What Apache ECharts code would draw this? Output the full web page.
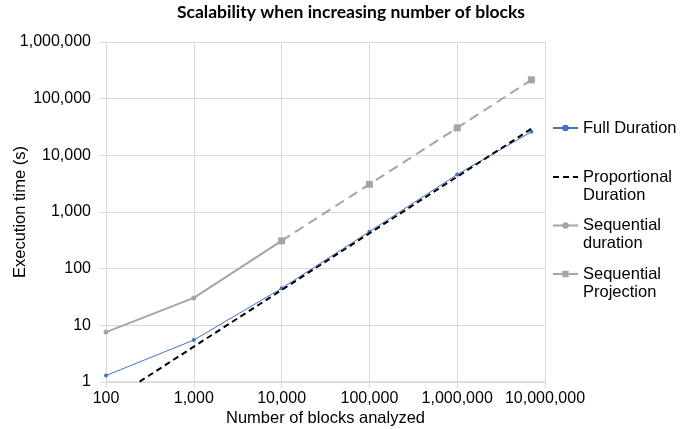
<!DOCTYPE html>
<html><head><meta charset="utf-8">
<script src="https://cdn.jsdelivr.net/npm/echarts@6/dist/echarts.min.js"></script>
<style>html,body{margin:0;padding:0;background:#fff}#c{width:691px;height:429px}</style>
</head><body><div id="c"></div>
<script>
const fullX = [100, 1000, 10000, 100000, 1000000, 7000000];
const fullY = [1.3, 5.5, 45, 450, 4600, 26000];
const propX = [100, 1000, 10000, 100000, 1000000, 7000000];
const propY = [0.42, 4.2, 42, 420, 4200, 29400];
const seqX = [100, 1000, 10000];
const seqY = [7.6, 30.5, 310];
const projX = [10000, 100000, 1000000, 7000000];
const projY = [310, 3080, 30500, 215000];
const names = ['Full Duration', 'Proportional\nDuration', 'Sequential\nduration', 'Sequential\nProjection'];

const zip = (xs, ys) => xs.map((x, i) => [x, ys[i]]);
const fmt = v => Number(v).toLocaleString('en-US');
const FONT = 'Liberation Sans, Arial, sans-serif';
const txt = {fontFamily: FONT, fontSize: 16, color: '#000'};

const chart = echarts.init(document.getElementById('c'));
const legendTops = [114, 145, 193.5, 242];
chart.setOption({
  animation: false,
  title: {text: 'Scalability when increasing number of blocks', left: 346, textAlign: 'center', top: -2,
    textStyle: {fontFamily: 'Lato, sans-serif', fontWeight: 'bold', fontSize: 17.5, color: '#000'}},
  grid: {left: 106, right: 146, top: 42, bottom: 47, containLabel: false, outerBoundsMode: 'none'},
  legend: names.map((n, i) => ({
    data: i === 1 ? [{name: n, itemStyle: {opacity: 0}}] : [n],
    left: 547, top: legendTops[i], orient: 'vertical',
    itemWidth: 25, itemHeight: 8, itemGap: 0,
    formatter: i === 0 ? '{name}' : (name => '\n' + name),
    textStyle: {fontFamily: FONT, fontSize: 16.5, color: '#000', lineHeight: 18}
  })),
  xAxis: {
    type: 'log', logBase: 10, min: 100, max: 10000000,
    name: 'Number of blocks analyzed', nameLocation: 'middle', nameGap: 28, nameMoveOverlap: false,
    nameTextStyle: {...txt, fontSize: 16.5},
    axisLine: {show: true, lineStyle: {color: '#d9d9d9', width: 1.5}},
    axisTick: {show: true, length: 6, lineStyle: {color: '#d9d9d9'}},
    axisLabel: {...txt, margin: 9, formatter: fmt},
    splitLine: {show: true, lineStyle: {color: '#d9d9d9'}},
    minorTick: {show: false}
  },
  yAxis: {
    type: 'log', logBase: 10, min: 1, max: 1000000,
    name: 'Execution time (s)', nameLocation: 'middle', nameGap: 77, nameRotate: 90, nameMoveOverlap: false,
    nameTextStyle: {...txt, fontSize: 16.5},
    axisLine: {show: false},
    axisTick: {show: true, length: 6, lineStyle: {color: '#d9d9d9'}},
    axisLabel: {...txt, margin: 15, formatter: fmt},
    splitLine: {show: true, lineStyle: {color: '#d9d9d9'}}
  },
  series: [
    {name: names[0], type: 'line', data: zip(fullX, fullY), z: 4,
      symbol: 'circle', symbolSize: 4, showSymbol: true,
      lineStyle: {color: '#4472C4', width: 1}, itemStyle: {color: '#4472C4'}},
    {name: names[1], type: 'line', data: zip(propX, propY), z: 5, clip: true,
      symbol: 'none', lineStyle: {color: '#000', width: 2, type: [6, 4]}, itemStyle: {color: '#000'}},
    {name: names[2], type: 'line', data: zip(seqX, seqY), z: 3,
      symbol: 'circle', symbolSize: 5,
      lineStyle: {color: '#A5A5A5', width: 2}, itemStyle: {color: '#A5A5A5'}},
    {name: names[3], type: 'line', data: zip(projX, projY), z: 3,
      symbol: 'rect', symbolSize: 7,
      lineStyle: {color: '#A5A5A5', width: 2, type: [10, 6]}, itemStyle: {color: '#A5A5A5'}}
  ]
});
</script></body></html>
